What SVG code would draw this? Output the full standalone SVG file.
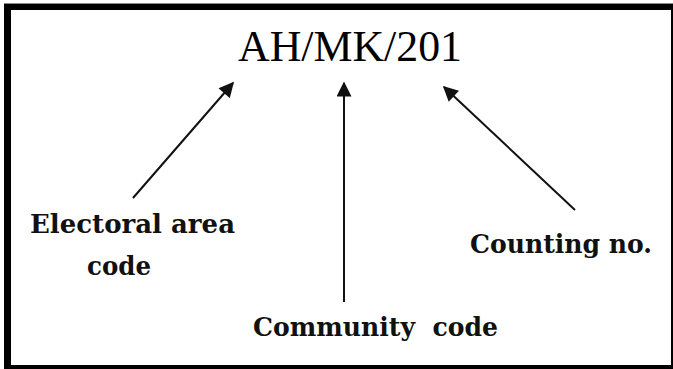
<svg xmlns="http://www.w3.org/2000/svg" width="673" height="369" viewBox="0 0 673 369">
  <defs>
    <marker id="head" viewBox="0 0 10 10" refX="9" refY="5" markerWidth="8.5" markerHeight="7.5" markerUnits="strokeWidth" orient="auto">
      <path d="M0,0 L10,5 L0,10 Z" fill="#111"/>
    </marker>
    <style>
      .code { font-family: "Liberation Serif", "Times New Roman", serif; font-size: 44px; fill: #000; }
      .label { font-family: "DejaVu Serif", "Liberation Serif", serif; font-weight: bold; font-size: 26px; fill: #111; }
      .arrow { stroke: #111; stroke-width: 2; fill: none; marker-end: url(#head); }
    </style>
  </defs>

  <!-- frame: heavy left/top edges, thin right/bottom edges -->
  <rect x="0" y="0" width="673" height="369" fill="#fff"/>
  <rect x="4" y="4" width="669" height="365" fill="#000"/>
  <line x1="4" y1="3.5" x2="673" y2="3.5" stroke="#888" stroke-width="1"/>
  <rect x="11" y="10" width="660" height="355" fill="#fff"/>

  <g id="code-string">
    <text class="code" x="238" y="61" textLength="224" lengthAdjust="spacingAndGlyphs">AH/MK/201</text>
  </g>

  <g id="electoral-area">
    <text class="label" x="30" y="233" textLength="205" lengthAdjust="spacingAndGlyphs">Electoral area</text>
    <text class="label" x="87" y="275" textLength="64" lengthAdjust="spacingAndGlyphs">code</text>
  </g>

  <g id="community">
    <text class="label" x="253" y="336" xml:space="preserve" textLength="245" lengthAdjust="spacingAndGlyphs">Community  code</text>
  </g>

  <g id="counting">
    <text class="label" x="470" y="253" textLength="182" lengthAdjust="spacingAndGlyphs">Counting no.</text>
  </g>

  <g id="connectors">
    <line class="arrow" x1="133" y1="198" x2="233" y2="83"/>
    <line class="arrow" x1="344" y1="302" x2="344" y2="83"/>
    <line class="arrow" x1="575" y1="210" x2="444" y2="87"/>
  </g>
</svg>
